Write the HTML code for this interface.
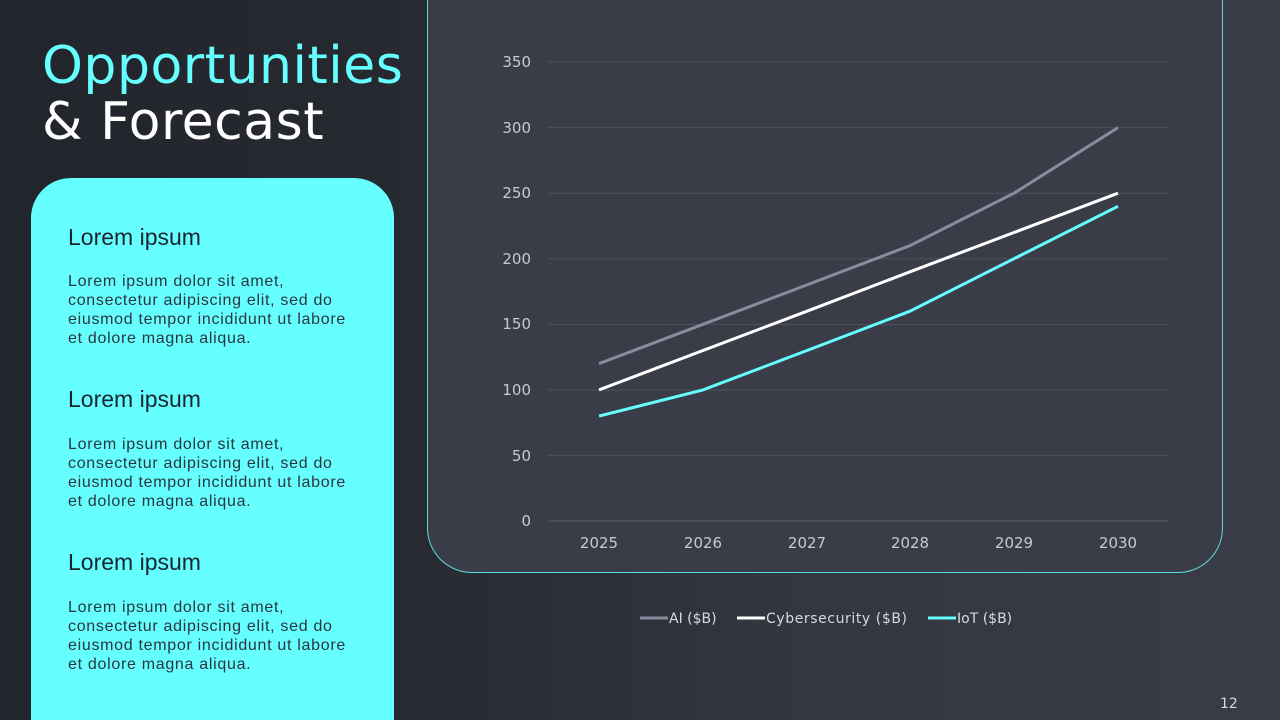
<!DOCTYPE html>
<html style="overflow:hidden"><head><meta charset="utf-8"><style>
html,body{margin:0;width:1280px;height:720px;overflow:hidden}
body{background:linear-gradient(90deg,#22252c 0%,#262930 30%,#33363f 60%,#3a3d47 100%);font-family:"DejaVu Sans","Liberation Sans",sans-serif;position:relative}
.t{position:absolute;left:42px;font-size:52px;line-height:56px;letter-spacing:0.5px;white-space:nowrap}
.card{position:absolute;left:31px;top:178px;width:363px;height:542px;background:#66ffff;border-radius:40px 40px 0 0}
.h{position:absolute;left:68px;font-size:23px;color:#1a2530;font-family:"Liberation Sans",sans-serif}
.p{position:absolute;left:68px;font-size:16px;letter-spacing:0.7px;line-height:19px;color:#2a3540;white-space:nowrap;font-family:"Liberation Sans",sans-serif}
.panel{position:absolute;left:427px;top:-40px;width:794px;height:611px;background:#3a3d48;border:1px solid #5fd9dc;border-radius:0 0 45px 45px}
</style></head><body>
<div class="t" style="top:38px;color:#66ffff">Opportunities</div>
<div class="t" style="top:94px;color:#fff">&amp; Forecast</div>
<div class="card"></div>
<div class="h" style="top:224px">Lorem ipsum</div>
<div class="p" style="top:272px">Lorem ipsum dolor sit amet,<br>consectetur adipiscing elit, sed do<br>eiusmod tempor incididunt ut labore<br>et dolore magna aliqua.</div>
<div class="h" style="top:386px">Lorem ipsum</div>
<div class="p" style="top:435px">Lorem ipsum dolor sit amet,<br>consectetur adipiscing elit, sed do<br>eiusmod tempor incididunt ut labore<br>et dolore magna aliqua.</div>
<div class="h" style="top:549px">Lorem ipsum</div>
<div class="p" style="top:598px">Lorem ipsum dolor sit amet,<br>consectetur adipiscing elit, sed do<br>eiusmod tempor incididunt ut labore<br>et dolore magna aliqua.</div>
<div class="panel"></div>
<svg width="1280" height="720" style="position:absolute;left:0;top:0" font-family="DejaVu Sans, Liberation Sans, sans-serif">
<g stroke="#4f525d" stroke-width="1">
<line x1="548" x2="1169" y1="62" y2="62"/><line x1="548" x2="1169" y1="127.6" y2="127.6"/><line x1="548" x2="1169" y1="193.2" y2="193.2"/><line x1="548" x2="1169" y1="258.8" y2="258.8"/><line x1="548" x2="1169" y1="324.4" y2="324.4"/><line x1="548" x2="1169" y1="390" y2="390"/><line x1="548" x2="1169" y1="455.6" y2="455.6"/><line x1="548" x2="1169" y1="521" y2="521" stroke="#5a5d68"/>
</g>
<g fill="#c8cad0" font-size="15" text-anchor="end">
<text x="531" y="67">350</text><text x="531" y="133">300</text><text x="531" y="198">250</text><text x="531" y="264">200</text><text x="531" y="329">150</text><text x="531" y="395">100</text><text x="531" y="461">50</text><text x="531" y="526">0</text>
</g>
<g fill="#c8cad0" font-size="15" text-anchor="middle">
<text x="599" y="548">2025</text><text x="703" y="548">2026</text><text x="807" y="548">2027</text><text x="910" y="548">2028</text><text x="1014" y="548">2029</text><text x="1118" y="548">2030</text>
</g>
<g fill="none" stroke-width="3" stroke-linejoin="round">
<polyline stroke="#8a8b9f" points="599,363.6 703,324.3 807,284.9 910,245.6 1014,193.2 1118,127.6"/>
<polyline stroke="#ffffff" points="599,389.9 703,350.5 807,311.2 910,271.8 1014,232.5 1118,193.2"/>
<polyline stroke="#66ffff" points="599,416.1 703,389.9 807,350.5 910,311.2 1014,258.7 1118,206.3"/>
</g>
<g font-size="14" fill="#d8dae0">
<line x1="640" x2="668" y1="618" y2="618" stroke="#8a8b9f" stroke-width="3"/><text x="669" y="623">AI ($B)</text>
<line x1="737" x2="765" y1="618" y2="618" stroke="#fff" stroke-width="3"/><text x="766" y="623" textLength="141">Cybersecurity ($B)</text>
<line x1="928" x2="956" y1="618" y2="618" stroke="#66ffff" stroke-width="3"/><text x="957" y="623">IoT ($B)</text>
<text x="1220" y="708" font-size="14">12</text>
</g>
</svg>
</body></html>
